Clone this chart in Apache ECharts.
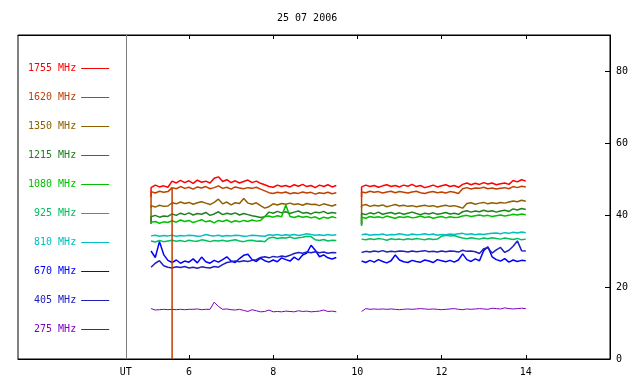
<!DOCTYPE html>
<html><head><meta charset="utf-8">
<script src="https://cdn.jsdelivr.net/npm/echarts@6/dist/echarts.min.js"></script>
<style>html,body{margin:0;padding:0;background:#fff}#c{width:640px;height:384px}</style>
</head><body><div id="c"></div>
<script>
// UT hours (first time of each run repeated: the run starts with a vertical jump)
const times = [5.1,5.1,5.2,5.3,5.4,5.5,5.6,5.7,5.8,5.9,6.0,6.1,6.2,6.3,6.4,6.5,6.6,6.7,6.8,6.9,7.0,
7.1,7.2,7.3,7.4,7.5,7.6,7.7,7.8,7.9,8.0,8.1,8.2,8.3,8.4,8.5,8.6,8.7,8.8,8.9,9.0,9.1,9.2,9.3,9.4,9.5,
9.8,
10.1,10.1,10.2,10.3,10.4,10.5,10.6,10.7,10.8,10.9,11.0,11.1,11.2,11.3,11.4,11.5,11.6,11.7,11.8,11.9,12.0,
12.1,12.2,12.3,12.4,12.5,12.6,12.7,12.8,12.9,13.0,13.1,13.2,13.3,13.4,13.5,13.6,13.7,13.8,13.9,14.0];

const names = ['1755 MHz','1620 MHz','1350 MHz','1215 MHz','1080 MHz','925 MHz','810 MHz','670 MHz','405 MHz','275 MHz'];

const s1755 = [45,
47.6,48.3,47.8,48.1,47.7,
49.4,48.9,49.6,49.0,49.5,48.8,49.7,49.1,49.4,48.9,50.2,50.6,49.3,49.8,49.0,49.5,48.9,49.3,49.7,49.0,49.4,48.8,
48.4,47.9,
47.7,48.3,47.9,48.2,47.8,48.4,48.0,48.5,47.9,48.2,47.6,48.3,47.9,48.4,47.8,48.2,
null,
45,
47.8,48.3,47.9,48.2,47.7,48.1,48.4,47.9,48.2,47.8,48.3,48.0,48.5,47.9,48.2,47.6,47.9,48.3,47.8,48.1,48.4,47.9,48.2,47.7,
48.5,48.9,48.4,48.8,48.5,49.0,48.6,48.9,48.4,48.7,48.9,48.5,
49.6,49.2,49.8,49.4];

const s1620 = [42,
46.5,46.1,46.6,46.3,46.5,
47.6,47.3,47.9,47.4,47.7,47.2,47.8,47.5,47.9,47.3,47.6,48.1,47.4,47.7,47.2,47.8,47.5,47.3,47.6,47.4,47.7,47.2,
46.7,46.2,
46.0,46.3,46.1,46.4,45.9,46.2,46.0,46.4,46.1,46.3,45.8,46.2,46.0,46.3,45.9,46.2,
null,
42,
46.4,46.2,46.6,46.3,46.5,46.1,46.4,46.6,46.2,46.5,46.3,46.1,46.4,46.6,46.2,46.0,46.3,46.5,46.2,46.4,46.1,46.5,46.3,46.0,
47.3,47.6,47.2,47.5,47.4,47.7,47.3,47.5,47.2,47.4,47.6,47.3,
47.9,47.6,48.0,47.8];
// short drop-out of the 1620 MHz channel
const spike1620 = [5.6, 0];

const s1350 = [38,
42.6,42.2,42.7,42.4,42.5,
43.4,43.1,43.6,43.2,43.5,43.0,43.4,43.7,43.3,42.9,43.5,44.4,43.1,43.6,42.8,43.4,43.2,44.6,43.3,43.0,43.4,
42.6,41.9,42.3,
43.1,42.8,43.2,43.0,43.3,42.9,43.1,42.7,43.2,42.9,43.0,42.6,43.1,42.8,42.5,42.9,
null,
37.5,
42.6,42.9,42.4,42.7,42.5,42.8,42.3,42.6,42.9,42.5,42.7,42.4,42.6,42.3,42.5,42.7,42.4,42.6,42.2,42.5,42.7,42.4,42.6,42.3,
41.9,43.2,43.4,43.0,43.3,43.5,43.1,43.4,43.2,43.5,43.3,43.6,
43.9,43.7,44.1,43.8];

const s1215 = [37.5,
39.5,39.9,39.4,39.7,39.6,
40.3,39.9,40.5,40.1,40.6,40.0,40.4,40.2,40.7,39.9,40.3,40.9,40.1,40.5,40.2,40.6,40.0,40.4,40.1,39.8,39.6,
39.3,39.5,
40.8,40.5,41.0,40.6,40.9,40.4,40.8,41.1,40.5,40.7,40.3,40.8,40.6,41.0,40.4,40.7,40.5,
null,
37,
40.4,40.1,40.6,40.3,40.8,40.2,40.5,40.7,40.3,40.6,40.2,40.5,40.8,40.4,40.1,40.5,40.3,40.6,40.2,40.4,40.7,40.3,40.5,40.2,
40.9,41.2,40.8,41.1,40.9,41.3,41.0,41.2,40.8,41.1,41.3,41.0,
41.7,41.4,41.8,41.5];

const s1080 = [38,
37.9,38.2,37.7,38.1,37.9,
38.4,38.0,38.6,38.2,38.5,37.9,38.3,38.7,38.1,38.4,37.8,38.5,38.2,38.6,38.0,38.4,38.1,38.5,38.2,38.6,38.3,38.5,
39.6,
39.7,39.4,39.8,39.5,42.8,39.6,39.3,39.7,39.4,39.6,39.2,39.5,38.9,39.4,39.1,39.5,39.2,
null,
37.2,
39.4,39.1,39.6,39.3,39.5,39.2,39.7,39.4,39.1,39.5,39.3,39.6,39.2,39.4,39.7,39.3,39.5,39.1,39.4,39.6,39.2,39.5,39.3,39.4,
39.7,39.9,39.6,39.8,40.0,39.7,39.9,39.6,39.8,40.0,39.7,39.9,
40.2,40.0,40.3,40.1];

const s925 = [32.8,
32.8,32.5,32.9,32.6,32.8,33.0,32.7,32.9,32.6,33.0,32.8,32.7,33.1,32.9,32.6,32.9,32.8,33.0,32.7,32.9,33.1,32.8,32.6,32.9,33.0,32.7,32.8,32.6,
33.6,33.8,33.5,33.7,33.6,33.9,33.5,33.7,33.8,
34.1,34.0,
33.1,32.9,33.2,32.8,33.0,32.9,
null,
33.3,
33.3,33.1,33.4,33.2,33.5,33.3,33.0,33.4,33.2,33.3,33.1,33.4,33.2,33.5,33.3,33.1,33.4,33.2,33.3,
34.1,34.4,34.2,34.3,33.9,
33.6,33.4,33.7,33.5,33.3,33.6,33.4,33.7,33.5,33.3,33.6,33.4,33.2,33.5,33.1,33.3];

const s810 = [34.2,
34.2,34.4,34.1,34.3,34.2,34.4,34.1,34.3,34.2,34.4,
34.3,34.1,34.2,34.6,34.3,34.2,34.4,34.1,34.3,34.2,
34.4,34.3,34.1,34.2,34.4,34.3,34.2,34.1,34.5,34.4,
34.6,34.3,34.5,34.4,34.6,34.3,34.5,34.8,34.6,34.4,
34.5,34.3,34.6,34.4,34.5,
null,
34.5,
34.5,34.7,34.4,34.6,34.5,34.7,34.4,34.6,34.5,34.8,
34.6,34.4,34.7,34.5,34.6,34.8,34.5,34.7,34.4,34.6,
34.5,34.7,34.6,34.8,34.9,34.6,34.8,34.5,34.7,34.6,
34.8,34.9,35.0,34.8,35.1,34.9,35.2,35.0,35.3,35.1];

const s670 = [30,
30.5,28.2,32.6,29.0,
27.4,26.8,27.5,26.6,27.2,26.9,27.8,26.7,28.3,27.0,
26.6,27.4,26.9,27.6,28.4,27.2,26.8,27.9,28.8,29.1,
27.6,27.1,28.0,27.3,26.9,27.5,27.0,28.1,27.6,27.2,
28.3,27.5,28.9,29.4,31.6,30.2,28.4,28.9,28.1,27.8,
28.2,
null,
27.2,
27.2,26.8,27.4,26.9,27.6,27.1,26.7,27.3,28.9,27.5,
27.0,26.8,27.4,27.1,26.9,27.5,27.2,26.8,27.6,27.3,
27.0,27.4,26.9,27.5,29.2,27.6,27.1,27.8,27.3,30.1,
31.2,28.4,27.6,27.2,27.9,26.9,27.5,27.1,27.4,27.3];

const s405 = [25.5,
25.4,26.6,27.3,25.9,25.5,25.3,25.6,25.4,25.7,25.3,
25.5,25.2,25.6,25.4,25.3,25.7,25.5,26.2,26.8,27.0,
27.2,27.0,27.3,27.1,27.4,27.6,28.2,28.4,28.1,28.5,
28.3,28.6,28.4,28.8,29.3,29.6,29.4,29.7,29.5,29.8,
29.5,29.7,29.4,29.6,29.5,
null,
29.6,
29.6,29.9,29.7,30.0,29.8,30.1,29.7,29.9,29.8,30.0,
29.9,29.7,30.0,29.8,29.9,30.1,29.8,29.9,29.7,30.0,
29.8,30.0,29.9,29.7,30.2,29.9,30.0,29.8,29.3,30.6,
30.9,29.4,30.3,31.0,29.6,30.2,31.3,32.8,30.1,30.0];

const s275 = [14.0,
14.0,13.6,13.7,13.8,13.7,13.8,13.7,13.8,13.7,13.8,
13.8,13.9,13.7,13.8,13.8,15.8,14.6,13.8,13.9,13.7,
13.6,13.8,13.5,13.2,13.7,13.4,13.1,13.2,13.6,13.1,
13.2,13.1,13.3,13.2,13.1,13.4,13.2,13.3,13.1,13.2,
13.3,13.6,13.2,13.3,13.1,
null,
13.2,
13.3,14.0,13.8,13.9,13.8,13.9,13.8,13.9,13.8,13.7,
13.8,13.9,13.8,13.9,14.0,13.9,13.8,13.9,13.8,13.7,
13.8,13.9,14.0,13.8,13.7,13.9,13.8,13.9,14.0,13.9,
13.8,14.1,14.0,13.9,14.2,14.0,13.9,14.0,14.1,14.0];

const values = [s1755,s1620,s1350,s1215,s1080,s925,s810,s670,s405,s275];
const colors = ['#ff0000','#c04000','#906000','#208020','#00c000','#00c060','#00c0c0','#0000ff','#2020c0','#8000c0'];
const xTicks = [6,8,10,12,14];
const yTicks = [0,20,40,60,80];
const utPos = 4.5;

function buildData(vals, spike) {
  const out = [];
  let spikeDone = false;
  for (let i = 0; i < times.length; i++) {
    const v = vals[i];
    out.push([times[i], v === null ? '-' : v]);
    if (spike && !spikeDone && times[i] === spike[0] && v !== null) {
      out.push([spike[0], spike[1]]);
      out.push([spike[0], v]);
      spikeDone = true;
    }
  }
  return out;
}

const mono = 'DejaVu Sans Mono';
const series = names.map((n, k) => ({
  name: n,
  type: 'line',
  data: buildData(values[k], k === 1 ? spike1620 : null),
  symbol: 'none',
  showSymbol: false,
  connectNulls: false,
  color: colors[k],
  lineStyle: { width: k === 9 ? 1 : 1.5, color: colors[k] },
  z: k === 1 ? 4 : 2,
  animation: false
}));
series[0].markLine = {
  silent: true, symbol: ['none', 'none'], animation: false,
  lineStyle: { color: '#808080', type: 'solid', width: 1 },
  label: { show: false },
  data: [{ xAxis: utPos }]
};

const chart = echarts.init(document.getElementById('c'), null, { renderer: 'canvas' });
chart.setOption({
  animation: false,
  backgroundColor: '#fff',
  textStyle: { fontFamily: mono },
  title: { text: '25 07 2006', left: 272, top: 8,
    textStyle: { fontSize: 10, fontWeight: 'normal', color: '#000', fontFamily: mono } },
  legend: {
    orient: 'vertical', left: 23, top: 56.5, itemWidth: 28, itemHeight: 1, itemGap: 15,
    align: 'right', selectedMode: false, icon: 'rect',
    formatter: n => n.padStart(8, ' '),
    textStyle: { fontSize: 10, fontFamily: mono, lineHeight: 14 },
    data: names.map((n, k) => ({ name: n, icon: 'rect', itemStyle: { color: colors[k] }, textStyle: { color: colors[k] } }))
  },
  grid: { left: 18, right: 30, top: 35, bottom: 25, show: true, borderColor: '#000', borderWidth: 1, outerBoundsMode: 'none' },
  xAxis: [{
    type: 'value', min: 1.94, max: 16, position: 'bottom',
    axisLine: { show: true, lineStyle: { color: '#000' } },
    axisTick: { show: true, inside: true, length: 4, customValues: xTicks, lineStyle: { color: '#000' } },
    axisLabel: { customValues: [utPos].concat(xTicks), formatter: v => (v === utPos ? 'UT' : String(v)),
      fontSize: 10, color: '#000', margin: 8, fontFamily: mono },
    splitLine: { show: false }
  }, {
    type: 'value', min: 1.94, max: 16, position: 'top',
    axisLine: { show: true, lineStyle: { color: '#000' } },
    axisTick: { show: true, inside: true, length: 4, customValues: xTicks, lineStyle: { color: '#000' } },
    axisLabel: { show: false },
    splitLine: { show: false }
  }],
  yAxis: {
    type: 'value', min: 0, max: 90, position: 'right',
    axisLine: { show: true, lineStyle: { color: '#000' } },
    axisTick: { show: true, inside: true, length: 5, customValues: yTicks, lineStyle: { color: '#000' } },
    axisLabel: { customValues: yTicks, fontSize: 10, color: '#000', margin: 6, fontFamily: mono },
    splitLine: { show: false }
  },
  series: series
});
</script>
</body></html>
